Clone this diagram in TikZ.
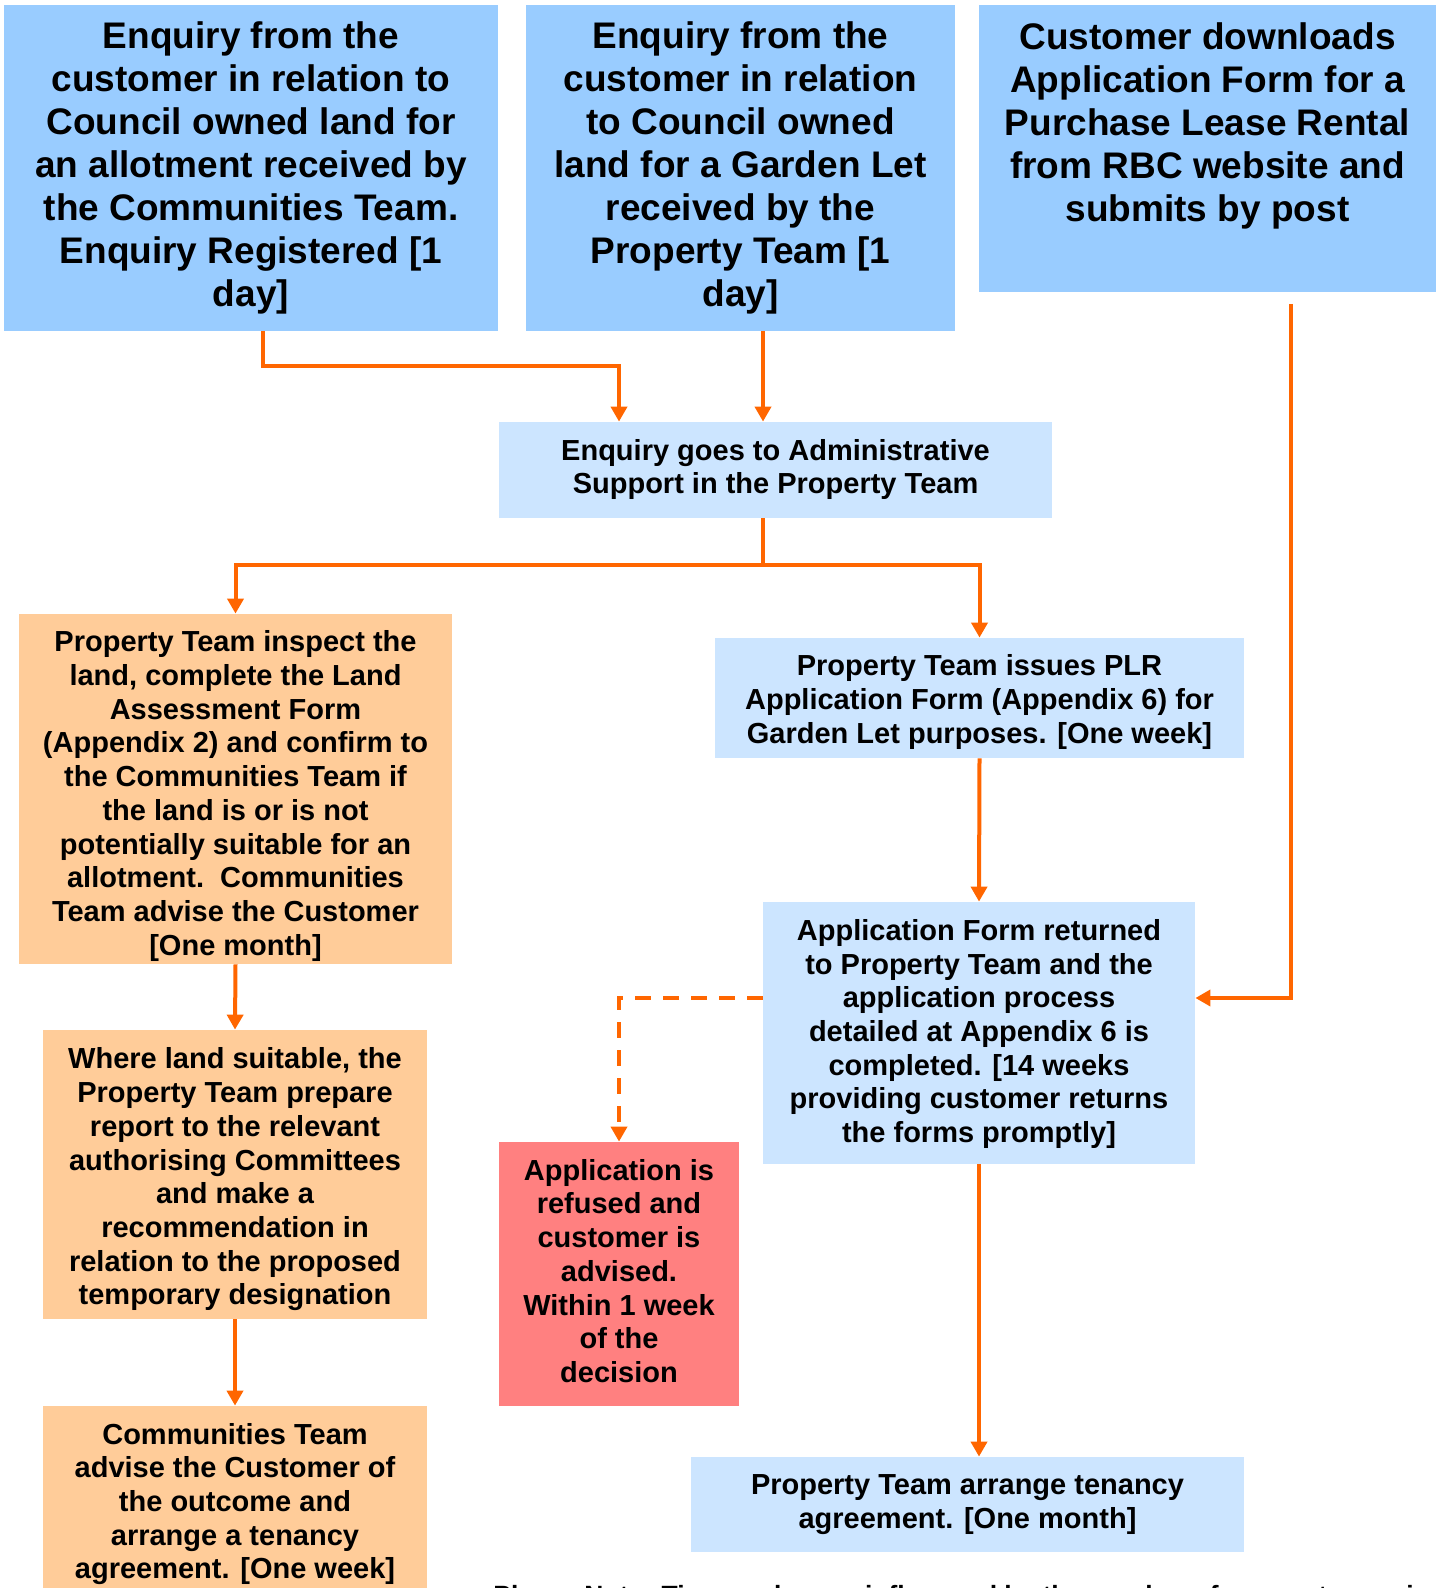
\documentclass[tikz,border=0pt]{standalone}
\usepackage{fontspec}
\setmainfont{Liberation Sans}
\usetikzlibrary{arrows.meta}
\definecolor{topblue}{HTML}{99CCFF}
\definecolor{lightblue}{HTML}{CCE5FF}
\definecolor{peach}{HTML}{FFCC99}
\definecolor{salmon}{HTML}{FF8080}
\definecolor{flow}{HTML}{FF6600}
% \bx{width}{height}{downward shift}{text}
\newcommand{\bx}[4]{\parbox[c][#2][c]{#1}{\centering\vspace*{#3}#4\par}}
\begin{document}
\begin{tikzpicture}[x=0.5pt,y=-0.5pt,
  box/.style={inner sep=0pt, align=center, font=\fontsize{14.5}{16.85}\selectfont\bfseries},
  bigbox/.style={box, fill=topblue, font=\fontsize{18.5}{21.5}\selectfont\bfseries},
  lbbox/.style={box, fill=lightblue},
  orbox/.style={box, fill=peach},
  rdbox/.style={box, fill=salmon},
  conn/.style={draw=flow, line width=2pt},
  arr/.style={conn, -{Triangle[width=8pt,length=7.5pt]}},
  dasharr/.style={arr, dash pattern=on 8pt off 6pt},
]
\useasboundingbox (0,0) rectangle (1440,1588);
\fill[white] (0,0) rectangle (1440,1588);

% top row
\node[bigbox, minimum width=247pt, minimum height=163pt] (b1) at (251,168)
  {Enquiry from the\\customer in relation to\\Council owned land for\\an allotment received by\\the Communities Team.\\Enquiry Registered [1\\day]};
\node[bigbox, minimum width=214.5pt, minimum height=163pt] (b2) at (740.5,168)
  {Enquiry from the\\customer in relation\\to Council owned\\land for a Garden Let\\received by the\\Property Team [1\\day]};
\node[bigbox] (b3) at (1207.5,148.5)
  {\parbox[c][143.5pt][t]{228.5pt}{\centering\vspace*{9pt}Customer downloads\\Application Form for a\\Purchase Lease Rental\\from RBC website and\\submits by post}};

% admin
\node[lbbox] (b4) at (775.5,470)
  {\bx{276.5pt}{48pt}{-0.5pt}{Enquiry goes to Administrative\\Support in the Property Team}};

% left column
\node[orbox] (b5) at (235.5,789)
  {\bx{216.5pt}{175pt}{7pt}{Property Team inspect the\\land, complete the Land\\Assessment Form\\(Appendix 2) and confirm to\\the Communities Team if\\the land is or is not\\potentially suitable for an\\allotment.\ \ Communities\\Team advise the Customer\\{}[One month]}};
\node[orbox] (b8) at (235,1174.5)
  {\bx{192pt}{144.5pt}{5pt}{Where land suitable, the\\Property Team prepare\\report to the relevant\\authorising Committees\\and make a\\recommendation in\\relation to the proposed\\temporary designation}};
\node[orbox] (b10) at (235,1500)
  {\bx{192pt}{94pt}{4pt}{Communities Team\\advise the Customer of\\the outcome and\\arrange a tenancy\\agreement. [One week]}};

% right column
\node[lbbox] (b6) at (979.5,698)
  {\bx{264.5pt}{60pt}{4pt}{Property Team issues PLR\\Application Form (Appendix 6) for\\Garden Let purposes. [One week]}};
\node[lbbox] (b7) at (979,1033)
  {\bx{216pt}{131pt}{1pt}{Application Form returned\\to Property Team and the\\application process\\detailed at Appendix 6 is\\completed. [14 weeks\\providing customer returns\\the forms promptly]}};
\node[rdbox] (b9) at (619,1274)
  {\bx{120pt}{132pt}{-3pt}{Application is\\refused and\\customer is\\advised.\\Within 1 week\\of the\\decision}};
\node[lbbox] (b11) at (967.5,1504.5)
  {\bx{276.5pt}{47.5pt}{0pt}{Property Team arrange tenancy\\agreement. [One month]}};

% note (cut off at the lower edge, as in the reference)
\node[anchor=base west, inner sep=0pt, font=\fontsize{13.2}{15}\selectfont\bfseries] (note) at (493,1604)
  {Please Note: Time scales are influenced by the number of consents required};

% connectors
\coordinate (c3) at (1291,304);
\draw[arr] ([xshift=6pt]b1.south) -- ++(0,35) -| ([xshift=-78.25pt]b4.north);
\draw[arr] ([xshift=11.25pt]b2.south) -- ([xshift=11.25pt]b2.south |- b4.north);
\draw[conn] ([xshift=-6.25pt]b4.south) -- ++(0,47) coordinate (j);
\draw[arr] (j) -| (b5.north);
\draw[arr] (j) -| (b6.north);
\draw[arr] (c3) |- ([yshift=17.5pt]b7.east);
\draw[arr] (b6.south) -- (b7.north);
\draw[dasharr] ([yshift=17.5pt]b7.west) -| (b9.north);
\draw[arr] (b7.south) -- (b7.south |- b11.north);
\draw[arr] (b5.south) -- (b8.north);
\draw[arr] (b8.south) -- (b10.north);
\end{tikzpicture}
\end{document}
